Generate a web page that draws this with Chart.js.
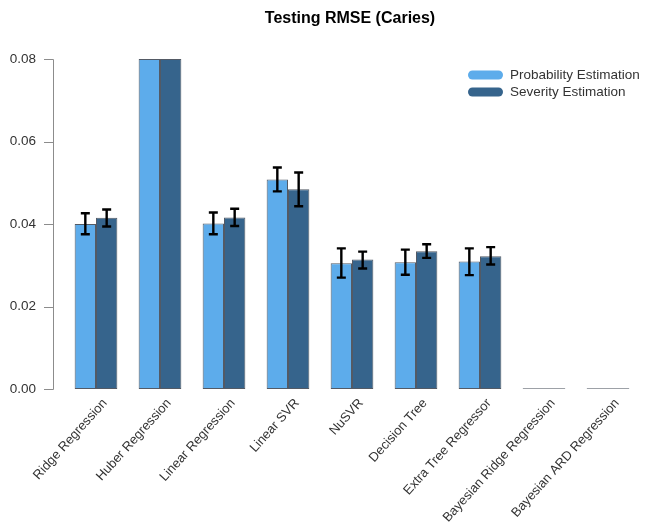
<!DOCTYPE html>
<html>
<head>
<meta charset="utf-8">
<script src="https://cdn.jsdelivr.net/npm/chart.js@4/dist/chart.umd.min.js"></script>
<style>
html,body{margin:0;padding:0;background:#fff;}
#wrap{width:646px;height:530px;position:relative;}
</style>
</head>
<body>
<div id="wrap"><canvas id="c" width="646" height="530"></canvas></div>
<script>
const categories = ["Ridge Regression","Huber Regression","Linear Regression","Linear SVR","NuSVR","Decision Tree","Extra Tree Regressor","Bayesian Ridge Regression","Bayesian ARD Regression"];
const seriesNames = ["Probability Estimation","Severity Estimation"];
const probValues = [0.0400,0.0800,0.0401,0.0508,0.0305,0.0307,0.0309,0.0002,0.0002];
const probLow    = [0.0375,null,0.0375,0.0479,0.0270,0.0277,0.0276,null,null];
const probHigh   = [0.0426,null,0.0428,0.0537,0.0341,0.0338,0.0341,null,null];
const sevValues  = [0.0415,0.0800,0.0416,0.0484,0.0314,0.0334,0.0322,0.0002,0.0002];
const sevLow     = [0.0394,null,0.0395,0.0443,0.0292,0.0318,0.0302,null,null];
const sevHigh    = [0.0435,null,0.0437,0.0525,0.0333,0.0351,0.0344,null,null];
const yTicks = [0,0.02,0.04,0.06,0.08];
const colors = ["#5DACEB","#36648C"];
const FONT = '"Liberation Sans", Arial, sans-serif';

const errorBars = {
  id:'errorBars',
  afterDatasetsDraw(chart){
    const ctx = chart.ctx, y = chart.scales.y;
    const lows=[probLow,sevLow], highs=[probHigh,sevHigh];
    ctx.save();
    ctx.strokeStyle='#000'; ctx.lineWidth=2.4; ctx.lineCap='butt';
    chart.data.datasets.forEach((ds,di)=>{
      const meta = chart.getDatasetMeta(di);
      meta.data.forEach((bar,i)=>{
        const lo=lows[di][i], hi=highs[di][i];
        if(lo==null||hi==null) return;
        const x=bar.x, y1=y.getPixelForValue(lo), y2=y.getPixelForValue(hi), w=4.5;
        ctx.beginPath();
        ctx.moveTo(x,y1); ctx.lineTo(x,y2);
        ctx.moveTo(x-w,y1); ctx.lineTo(x+w,y1);
        ctx.moveTo(x-w,y2); ctx.lineTo(x+w,y2);
        ctx.stroke();
      });
    });
    ctx.restore();
  }
};

const decor = {
  id:'decor',
  afterDraw(chart){
    const ctx=chart.ctx, y=chart.scales.y, x=chart.scales.x;
    ctx.save();
    // y axis line and ticks
    ctx.strokeStyle='#8c8c8c'; ctx.lineWidth=1;
    const ax=53.5;
    ctx.beginPath();
    ctx.moveTo(ax,Math.round(y.getPixelForValue(yTicks[0]))+0.5);
    ctx.lineTo(ax,Math.round(y.getPixelForValue(yTicks[yTicks.length-1]))+0.5);
    yTicks.forEach(t=>{
      const py=Math.round(y.getPixelForValue(t))+0.5;
      ctx.moveTo(44,py); ctx.lineTo(ax,py);
    });
    ctx.stroke();
    // x labels (rotated, right end anchored)
    ctx.fillStyle='#333';
    ctx.font='13px '+FONT;
    ctx.textAlign='right'; ctx.textBaseline='middle';
    categories.forEach((c,i)=>{
      const px=x.getPixelForValue(i)+9, py=y.getPixelForValue(0)+12;
      ctx.save();
      ctx.translate(px,py);
      ctx.rotate(-48*Math.PI/180);
      ctx.fillText(c,0,0);
      ctx.restore();
    });
    // title
    ctx.fillStyle='#000';
    ctx.font='bold 16px '+FONT;
    ctx.textAlign='center'; ctx.textBaseline='middle';
    ctx.fillText('Testing RMSE (Caries)',350,19);
    // legend
    ctx.font='13.5px '+FONT;
    ctx.textAlign='left';
    seriesNames.forEach((n,i)=>{
      const cy=75+i*17;
      ctx.fillStyle=colors[i];
      ctx.beginPath();
      ctx.roundRect(468,cy-4.5,35,9,4.5);
      ctx.fill();
      ctx.fillStyle='#333';
      ctx.fillText(n,510,cy+0.5);
    });
    ctx.restore();
  }
};

new Chart(document.getElementById('c'),{
  type:'bar',
  data:{
    labels:categories,
    datasets:[
      {label:seriesNames[0],data:probValues,backgroundColor:colors[0],borderColor:'rgba(25,35,50,0.75)',borderWidth:1,borderSkipped:false,categoryPercentage:0.667,barPercentage:1},
      {label:seriesNames[1],data:sevValues,backgroundColor:colors[1],borderColor:'rgba(25,35,50,0.75)',borderWidth:1,borderSkipped:false,categoryPercentage:0.667,barPercentage:1}
    ]
  },
  options:{
    responsive:false,
    animation:false,
    layout:{padding:{top:59,right:6,left:0,bottom:0}},
    plugins:{legend:{display:false},tooltip:{enabled:false},title:{display:false}},
    scales:{
      x:{
        grid:{display:false,drawTicks:false},
        border:{display:false},
        ticks:{display:false},
        afterFit(s){s.height=141;}
      },
      y:{
        min:0,max:0.08,
        grid:{display:false,drawTicks:false},
        border:{display:false},
        afterBuildTicks(s){s.ticks=yTicks.map(v=>({value:v}));},
        ticks:{color:'#333',font:{family:FONT,size:13.5},padding:28,callback:v=>v.toFixed(2)},
        afterFit(s){s.width=64;}
      }
    }
  },
  plugins:[errorBars,decor]
});
</script>
</body>
</html>
